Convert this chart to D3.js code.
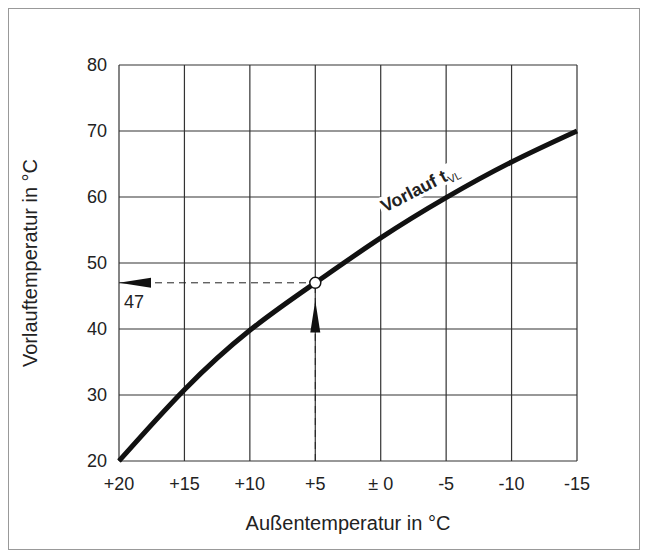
<!DOCTYPE html>
<html><head><meta charset="utf-8">
<script src="https://cdn.jsdelivr.net/npm/d3@7.9.0/dist/d3.min.js"></script>
<style>body{margin:0;background:#fff}svg{font-family:"Liberation Sans",Arial,sans-serif}</style>
</head><body>
<svg id="chart" width="649" height="559"></svg>
<script>
const xTicks = [20, 15, 10, 5, 0, -5, -10, -15];
const xTickLabels = ["+20", "+15", "+10", "+5", "± 0", "-5", "-10", "-15"];
const yTicks = [20, 30, 40, 50, 60, 70, 80];
const outdoorTemp = [20, 15, 10, 5, 0, -5, -10, -15];
const flowTemp = [20, 30.8, 39.8, 47, 53.8, 59.9, 65.3, 70];
const markOutdoor = 5, markFlow = 47;

const svg = d3.select("#chart");
svg.append("rect").attr("x", 8.5).attr("y", 8.5).attr("width", 631).attr("height", 541)
  .attr("fill", "none").attr("stroke", "#999").attr("stroke-width", 1);

const x = d3.scaleLinear().domain([20, -15]).range([119, 577]);
const y = d3.scaleLinear().domain([20, 80]).range([461, 65]);

const g = svg.append("g");
g.selectAll(".vx").data(xTicks).join("line")
  .attr("x1", d => x(d)).attr("x2", d => x(d)).attr("y1", y(20)).attr("y2", y(80))
  .attr("stroke", "#333").attr("stroke-width", 1.2);
g.selectAll(".hy").data(yTicks).join("line")
  .attr("y1", d => y(d)).attr("y2", d => y(d)).attr("x1", x(20)).attr("x2", x(-15))
  .attr("stroke", "#333").attr("stroke-width", 1.2);

g.selectAll(".xl").data(xTicks).join("text")
  .attr("x", d => x(d)).attr("y", y(20) + 29).attr("text-anchor", "middle")
  .attr("font-size", 18).attr("fill", "#222").text((d, i) => xTickLabels[i]);
g.selectAll(".yl").data(yTicks).join("text")
  .attr("x", x(20) - 12).attr("y", d => y(d) + 6).attr("text-anchor", "end")
  .attr("font-size", 18).attr("fill", "#222").text(d => d);

svg.append("text").attr("x", x(2.5)).attr("y", 530).attr("text-anchor", "middle")
  .attr("font-size", 20).attr("fill", "#222").text("Außentemperatur in °C");
svg.append("text").attr("transform", `translate(37,${y(50)}) rotate(-90)`)
  .attr("text-anchor", "middle").attr("font-size", 20).attr("fill", "#222").text("Vorlauftemperatur in °C");

// dashed guides
const dash = "7,5";
svg.append("line").attr("x1", x(markOutdoor)).attr("x2", x(markOutdoor))
  .attr("y1", y(20)).attr("y2", y(markFlow)).attr("stroke", "#222").attr("stroke-dasharray", dash);
svg.append("line").attr("x1", x(20)).attr("x2", x(markOutdoor))
  .attr("y1", y(markFlow)).attr("y2", y(markFlow)).attr("stroke", "#222").attr("stroke-dasharray", dash);
// arrows
const ax = x(20), ay = y(markFlow);
svg.append("path").attr("d", `M${ax},${ay} L${ax + 32},${ay - 5} L${ax + 32},${ay + 5} Z`).attr("fill", "#111");
const vx = x(markOutdoor), vy = y(44.3);
svg.append("path").attr("d", `M${vx},${vy} L${vx - 5},${vy + 32} L${vx + 5},${vy + 32} Z`).attr("fill", "#111");
svg.append("text").attr("x", x(20) + 5).attr("y", ay + 25).attr("font-size", 18).attr("fill", "#222").text(markFlow);

// curve
const line = d3.line().x(d => x(d[0])).y(d => y(d[1])).curve(d3.curveNatural);
const pts = outdoorTemp.map((d, i) => [d, flowTemp[i]]);
svg.append("path").attr("d", line(pts)).attr("fill", "none").attr("stroke", "#111").attr("stroke-width", 5);

svg.append("circle").attr("cx", x(markOutdoor)).attr("cy", y(markFlow)).attr("r", 5.5)
  .attr("fill", "#fff").attr("stroke", "#111").attr("stroke-width", 1.5);

// label
const lbl = svg.append("g").attr("transform", `translate(${x(-0.3)},${y(57.6)}) rotate(-27)`);
const t = lbl.append("text").attr("font-size", 18).attr("font-weight", "bold").attr("fill", "#222");
t.append("tspan").text("Vorlauf t");
t.append("tspan").attr("font-size", 11).attr("dy", 4).attr("font-weight", "normal").text("VL");
const bb = t.node().getBBox();
lbl.insert("rect", "text").attr("x", bb.x - 2).attr("y", bb.y).attr("width", bb.width + 4).attr("height", bb.height - 3).attr("fill", "#fff");
</script>
</body></html>
